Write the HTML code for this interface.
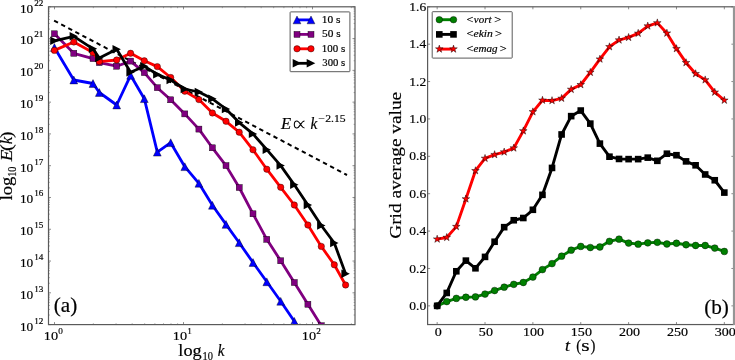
<!DOCTYPE html>
<html><head><meta charset="utf-8"><style>
html,body{margin:0;padding:0;background:#fff;width:735px;height:360px;overflow:hidden;}
svg{display:block;will-change:transform;}
</style></head><body>
<svg width="735" height="360" viewBox="0 0 735 360" font-family="Liberation Serif"><style>text{stroke:#000;stroke-width:0.18px;}</style>
<defs><clipPath id="cl"><rect x="48.5" y="6.8" width="306.5" height="317.8"/></clipPath>
<clipPath id="cr"><rect x="427.6" y="6.8" width="306.3" height="317.75"/></clipPath></defs>
<g clip-path="url(#cl)">
<line x1="54.1" y1="20.6" x2="347" y2="175" stroke="#000" stroke-width="2" stroke-dasharray="4.4 3.6"/>
<polyline points="54.4,47.5 73.8,80 93,83.5 99.3,92.5 116.7,105 130.6,75.3 144.3,98.7 157.3,152.2 170.7,142.7 184.8,166.7 198.9,183.3 212.4,205.3 226,224.4 239.2,242.7 253,262.5 266.8,281.8 280.7,301.3 294.3,321.3 307.9,341" fill="none" stroke="#0000ff" stroke-width="2.8" stroke-linejoin="round"/>
<path d="M54.4 43.6L50.5 51.4L58.3 51.4Z" fill="#0000ff" stroke="#000" stroke-width="0.4"/><path d="M73.8 76.1L69.9 83.9L77.7 83.9Z" fill="#0000ff" stroke="#000" stroke-width="0.4"/><path d="M93 79.6L89.1 87.4L96.9 87.4Z" fill="#0000ff" stroke="#000" stroke-width="0.4"/><path d="M99.3 88.6L95.4 96.4L103.2 96.4Z" fill="#0000ff" stroke="#000" stroke-width="0.4"/><path d="M116.7 101.1L112.8 108.9L120.6 108.9Z" fill="#0000ff" stroke="#000" stroke-width="0.4"/><path d="M130.6 71.4L126.7 79.2L134.5 79.2Z" fill="#0000ff" stroke="#000" stroke-width="0.4"/><path d="M144.3 94.8L140.4 102.6L148.2 102.6Z" fill="#0000ff" stroke="#000" stroke-width="0.4"/><path d="M157.3 148.3L153.4 156.1L161.2 156.1Z" fill="#0000ff" stroke="#000" stroke-width="0.4"/><path d="M170.7 138.8L166.8 146.6L174.6 146.6Z" fill="#0000ff" stroke="#000" stroke-width="0.4"/><path d="M184.8 162.8L180.9 170.6L188.7 170.6Z" fill="#0000ff" stroke="#000" stroke-width="0.4"/><path d="M198.9 179.4L195 187.2L202.8 187.2Z" fill="#0000ff" stroke="#000" stroke-width="0.4"/><path d="M212.4 201.4L208.5 209.2L216.3 209.2Z" fill="#0000ff" stroke="#000" stroke-width="0.4"/><path d="M226 220.5L222.1 228.3L229.9 228.3Z" fill="#0000ff" stroke="#000" stroke-width="0.4"/><path d="M239.2 238.8L235.3 246.6L243.1 246.6Z" fill="#0000ff" stroke="#000" stroke-width="0.4"/><path d="M253 258.6L249.1 266.4L256.9 266.4Z" fill="#0000ff" stroke="#000" stroke-width="0.4"/><path d="M266.8 277.9L262.9 285.7L270.7 285.7Z" fill="#0000ff" stroke="#000" stroke-width="0.4"/><path d="M280.7 297.4L276.8 305.2L284.6 305.2Z" fill="#0000ff" stroke="#000" stroke-width="0.4"/><path d="M294.3 317.4L290.4 325.2L298.2 325.2Z" fill="#0000ff" stroke="#000" stroke-width="0.4"/><path d="M307.9 337.1L304 344.9L311.8 344.9Z" fill="#0000ff" stroke="#000" stroke-width="0.4"/>
<polyline points="54.4,33.8 73.8,53.3 93,58.6 99.3,62.6 116.7,66.2 130.6,61.1 144.3,72.6 157.3,87.7 170.7,99.8 184.8,113.9 198.9,129.1 212.4,147.8 226,165.6 239.2,187.5 253,213.8 266.8,239.3 280.7,260.8 294.3,282.5 307.9,304.3 321.3,325.7 334.3,345" fill="none" stroke="#800080" stroke-width="2.8" stroke-linejoin="round"/>
<rect x="51.4" y="30.8" width="6" height="6" fill="#800080" stroke="#000" stroke-width="0.4"/><rect x="70.8" y="50.3" width="6" height="6" fill="#800080" stroke="#000" stroke-width="0.4"/><rect x="90" y="55.6" width="6" height="6" fill="#800080" stroke="#000" stroke-width="0.4"/><rect x="96.3" y="59.6" width="6" height="6" fill="#800080" stroke="#000" stroke-width="0.4"/><rect x="113.7" y="63.2" width="6" height="6" fill="#800080" stroke="#000" stroke-width="0.4"/><rect x="127.6" y="58.1" width="6" height="6" fill="#800080" stroke="#000" stroke-width="0.4"/><rect x="141.3" y="69.6" width="6" height="6" fill="#800080" stroke="#000" stroke-width="0.4"/><rect x="154.3" y="84.7" width="6" height="6" fill="#800080" stroke="#000" stroke-width="0.4"/><rect x="167.7" y="96.8" width="6" height="6" fill="#800080" stroke="#000" stroke-width="0.4"/><rect x="181.8" y="110.9" width="6" height="6" fill="#800080" stroke="#000" stroke-width="0.4"/><rect x="195.9" y="126.1" width="6" height="6" fill="#800080" stroke="#000" stroke-width="0.4"/><rect x="209.4" y="144.8" width="6" height="6" fill="#800080" stroke="#000" stroke-width="0.4"/><rect x="223" y="162.6" width="6" height="6" fill="#800080" stroke="#000" stroke-width="0.4"/><rect x="236.2" y="184.5" width="6" height="6" fill="#800080" stroke="#000" stroke-width="0.4"/><rect x="250" y="210.8" width="6" height="6" fill="#800080" stroke="#000" stroke-width="0.4"/><rect x="263.8" y="236.3" width="6" height="6" fill="#800080" stroke="#000" stroke-width="0.4"/><rect x="277.7" y="257.8" width="6" height="6" fill="#800080" stroke="#000" stroke-width="0.4"/><rect x="291.3" y="279.5" width="6" height="6" fill="#800080" stroke="#000" stroke-width="0.4"/><rect x="304.9" y="301.3" width="6" height="6" fill="#800080" stroke="#000" stroke-width="0.4"/><rect x="318.3" y="322.7" width="6" height="6" fill="#800080" stroke="#000" stroke-width="0.4"/><rect x="331.3" y="342" width="6" height="6" fill="#800080" stroke="#000" stroke-width="0.4"/>
<polyline points="54.4,50.4 73.8,42 93,52.5 99.3,61.6 116.7,60 130.6,53.3 144.3,60.8 157.3,66.6 170.7,77.5 184.8,91.2 198.9,99.6 212.4,113 226,121.3 239.2,132.2 253,149.8 266.8,169.2 280.7,187.3 294.3,205 307.9,225 321.3,246.4 334.3,264.8 345.6,285" fill="none" stroke="#ff0000" stroke-width="2.8" stroke-linejoin="round"/>
<circle cx="54.4" cy="50.4" r="3.2" fill="#ff0000" stroke="#000" stroke-width="0.4"/><circle cx="73.8" cy="42" r="3.2" fill="#ff0000" stroke="#000" stroke-width="0.4"/><circle cx="93" cy="52.5" r="3.2" fill="#ff0000" stroke="#000" stroke-width="0.4"/><circle cx="99.3" cy="61.6" r="3.2" fill="#ff0000" stroke="#000" stroke-width="0.4"/><circle cx="116.7" cy="60" r="3.2" fill="#ff0000" stroke="#000" stroke-width="0.4"/><circle cx="130.6" cy="53.3" r="3.2" fill="#ff0000" stroke="#000" stroke-width="0.4"/><circle cx="144.3" cy="60.8" r="3.2" fill="#ff0000" stroke="#000" stroke-width="0.4"/><circle cx="157.3" cy="66.6" r="3.2" fill="#ff0000" stroke="#000" stroke-width="0.4"/><circle cx="170.7" cy="77.5" r="3.2" fill="#ff0000" stroke="#000" stroke-width="0.4"/><circle cx="184.8" cy="91.2" r="3.2" fill="#ff0000" stroke="#000" stroke-width="0.4"/><circle cx="198.9" cy="99.6" r="3.2" fill="#ff0000" stroke="#000" stroke-width="0.4"/><circle cx="212.4" cy="113" r="3.2" fill="#ff0000" stroke="#000" stroke-width="0.4"/><circle cx="226" cy="121.3" r="3.2" fill="#ff0000" stroke="#000" stroke-width="0.4"/><circle cx="239.2" cy="132.2" r="3.2" fill="#ff0000" stroke="#000" stroke-width="0.4"/><circle cx="253" cy="149.8" r="3.2" fill="#ff0000" stroke="#000" stroke-width="0.4"/><circle cx="266.8" cy="169.2" r="3.2" fill="#ff0000" stroke="#000" stroke-width="0.4"/><circle cx="280.7" cy="187.3" r="3.2" fill="#ff0000" stroke="#000" stroke-width="0.4"/><circle cx="294.3" cy="205" r="3.2" fill="#ff0000" stroke="#000" stroke-width="0.4"/><circle cx="307.9" cy="225" r="3.2" fill="#ff0000" stroke="#000" stroke-width="0.4"/><circle cx="321.3" cy="246.4" r="3.2" fill="#ff0000" stroke="#000" stroke-width="0.4"/><circle cx="334.3" cy="264.8" r="3.2" fill="#ff0000" stroke="#000" stroke-width="0.4"/><circle cx="345.6" cy="285" r="3.2" fill="#ff0000" stroke="#000" stroke-width="0.4"/>
<polyline points="54.4,40.8 73.8,36.3 93,48.8 99.3,58.1 116.7,49.2 130.6,72.3 144.3,66.3 157.3,74.4 170.7,80 184.8,89 198.9,92 212.4,98.8 226,109 239.2,122.6 253,133.9 266.8,149.7 280.7,165.6 294.3,184.7 307.9,205 321.3,225.5 334.3,243 345.6,273.8" fill="none" stroke="#000000" stroke-width="2.8" stroke-linejoin="round"/>
<path d="M58.6 40.8L50.2 36.6L50.2 45Z" fill="#000000" stroke="none" stroke-width="0"/><path d="M78 36.3L69.6 32.1L69.6 40.5Z" fill="#000000" stroke="none" stroke-width="0"/><path d="M97.2 48.8L88.8 44.6L88.8 53Z" fill="#000000" stroke="none" stroke-width="0"/><path d="M103.5 58.1L95.1 53.9L95.1 62.3Z" fill="#000000" stroke="none" stroke-width="0"/><path d="M120.9 49.2L112.5 45L112.5 53.4Z" fill="#000000" stroke="none" stroke-width="0"/><path d="M134.8 72.3L126.4 68.1L126.4 76.5Z" fill="#000000" stroke="none" stroke-width="0"/><path d="M148.5 66.3L140.1 62.1L140.1 70.5Z" fill="#000000" stroke="none" stroke-width="0"/><path d="M161.5 74.4L153.1 70.2L153.1 78.6Z" fill="#000000" stroke="none" stroke-width="0"/><path d="M174.9 80L166.5 75.8L166.5 84.2Z" fill="#000000" stroke="none" stroke-width="0"/><path d="M189 89L180.6 84.8L180.6 93.2Z" fill="#000000" stroke="none" stroke-width="0"/><path d="M203.1 92L194.7 87.8L194.7 96.2Z" fill="#000000" stroke="none" stroke-width="0"/><path d="M216.6 98.8L208.2 94.6L208.2 103Z" fill="#000000" stroke="none" stroke-width="0"/><path d="M230.2 109L221.8 104.8L221.8 113.2Z" fill="#000000" stroke="none" stroke-width="0"/><path d="M243.4 122.6L235 118.4L235 126.8Z" fill="#000000" stroke="none" stroke-width="0"/><path d="M257.2 133.9L248.8 129.7L248.8 138.1Z" fill="#000000" stroke="none" stroke-width="0"/><path d="M271 149.7L262.6 145.5L262.6 153.9Z" fill="#000000" stroke="none" stroke-width="0"/><path d="M284.9 165.6L276.5 161.4L276.5 169.8Z" fill="#000000" stroke="none" stroke-width="0"/><path d="M298.5 184.7L290.1 180.5L290.1 188.9Z" fill="#000000" stroke="none" stroke-width="0"/><path d="M312.1 205L303.7 200.8L303.7 209.2Z" fill="#000000" stroke="none" stroke-width="0"/><path d="M325.5 225.5L317.1 221.3L317.1 229.7Z" fill="#000000" stroke="none" stroke-width="0"/><path d="M338.5 243L330.1 238.8L330.1 247.2Z" fill="#000000" stroke="none" stroke-width="0"/><path d="M349.8 273.8L341.4 269.6L341.4 278Z" fill="#000000" stroke="none" stroke-width="0"/>
</g>
<path d="M54.5 324.6v-2.5M54.5 6.8v2.5M183.5 324.6v-2.5M183.5 6.8v2.5M312.5 324.6v-2.5M312.5 6.8v2.5M48.5 324.6h2.5M355 324.6h-2.5M48.5 292.82h2.5M355 292.82h-2.5M48.5 261.04h2.5M355 261.04h-2.5M48.5 229.26h2.5M355 229.26h-2.5M48.5 197.48h2.5M355 197.48h-2.5M48.5 165.7h2.5M355 165.7h-2.5M48.5 133.92h2.5M355 133.92h-2.5M48.5 102.14h2.5M355 102.14h-2.5M48.5 70.36h2.5M355 70.36h-2.5M48.5 38.58h2.5M355 38.58h-2.5M48.5 6.8h2.5M355 6.8h-2.5" stroke="#666" stroke-width="0.75" fill="none"/>
<path d="M93.33 324.6v-1.4M93.33 6.8v1.4M116.05 324.6v-1.4M116.05 6.8v1.4M132.17 324.6v-1.4M132.17 6.8v1.4M144.67 324.6v-1.4M144.67 6.8v1.4M154.88 324.6v-1.4M154.88 6.8v1.4M163.52 324.6v-1.4M163.52 6.8v1.4M171 324.6v-1.4M171 6.8v1.4M177.6 324.6v-1.4M177.6 6.8v1.4M222.33 324.6v-1.4M222.33 6.8v1.4M245.05 324.6v-1.4M245.05 6.8v1.4M261.17 324.6v-1.4M261.17 6.8v1.4M273.67 324.6v-1.4M273.67 6.8v1.4M283.88 324.6v-1.4M283.88 6.8v1.4M292.52 324.6v-1.4M292.52 6.8v1.4M300 324.6v-1.4M300 6.8v1.4M306.6 324.6v-1.4M306.6 6.8v1.4M351.33 324.6v-1.4M351.33 6.8v1.4M48.5 315.03h1.4M355 315.03h-1.4M48.5 309.44h1.4M355 309.44h-1.4M48.5 305.47h1.4M355 305.47h-1.4M48.5 302.39h1.4M355 302.39h-1.4M48.5 299.87h1.4M355 299.87h-1.4M48.5 297.74h1.4M355 297.74h-1.4M48.5 295.9h1.4M355 295.9h-1.4M48.5 294.27h1.4M355 294.27h-1.4M48.5 283.25h1.4M355 283.25h-1.4M48.5 277.66h1.4M355 277.66h-1.4M48.5 273.69h1.4M355 273.69h-1.4M48.5 270.61h1.4M355 270.61h-1.4M48.5 268.09h1.4M355 268.09h-1.4M48.5 265.96h1.4M355 265.96h-1.4M48.5 264.12h1.4M355 264.12h-1.4M48.5 262.49h1.4M355 262.49h-1.4M48.5 251.47h1.4M355 251.47h-1.4M48.5 245.88h1.4M355 245.88h-1.4M48.5 241.91h1.4M355 241.91h-1.4M48.5 238.83h1.4M355 238.83h-1.4M48.5 236.31h1.4M355 236.31h-1.4M48.5 234.18h1.4M355 234.18h-1.4M48.5 232.34h1.4M355 232.34h-1.4M48.5 230.71h1.4M355 230.71h-1.4M48.5 219.69h1.4M355 219.69h-1.4M48.5 214.1h1.4M355 214.1h-1.4M48.5 210.13h1.4M355 210.13h-1.4M48.5 207.05h1.4M355 207.05h-1.4M48.5 204.53h1.4M355 204.53h-1.4M48.5 202.4h1.4M355 202.4h-1.4M48.5 200.56h1.4M355 200.56h-1.4M48.5 198.93h1.4M355 198.93h-1.4M48.5 187.91h1.4M355 187.91h-1.4M48.5 182.32h1.4M355 182.32h-1.4M48.5 178.35h1.4M355 178.35h-1.4M48.5 175.27h1.4M355 175.27h-1.4M48.5 172.75h1.4M355 172.75h-1.4M48.5 170.62h1.4M355 170.62h-1.4M48.5 168.78h1.4M355 168.78h-1.4M48.5 167.15h1.4M355 167.15h-1.4M48.5 156.13h1.4M355 156.13h-1.4M48.5 150.54h1.4M355 150.54h-1.4M48.5 146.57h1.4M355 146.57h-1.4M48.5 143.49h1.4M355 143.49h-1.4M48.5 140.97h1.4M355 140.97h-1.4M48.5 138.84h1.4M355 138.84h-1.4M48.5 137h1.4M355 137h-1.4M48.5 135.37h1.4M355 135.37h-1.4M48.5 124.35h1.4M355 124.35h-1.4M48.5 118.76h1.4M355 118.76h-1.4M48.5 114.79h1.4M355 114.79h-1.4M48.5 111.71h1.4M355 111.71h-1.4M48.5 109.19h1.4M355 109.19h-1.4M48.5 107.06h1.4M355 107.06h-1.4M48.5 105.22h1.4M355 105.22h-1.4M48.5 103.59h1.4M355 103.59h-1.4M48.5 92.57h1.4M355 92.57h-1.4M48.5 86.98h1.4M355 86.98h-1.4M48.5 83.01h1.4M355 83.01h-1.4M48.5 79.93h1.4M355 79.93h-1.4M48.5 77.41h1.4M355 77.41h-1.4M48.5 75.28h1.4M355 75.28h-1.4M48.5 73.44h1.4M355 73.44h-1.4M48.5 71.81h1.4M355 71.81h-1.4M48.5 60.79h1.4M355 60.79h-1.4M48.5 55.2h1.4M355 55.2h-1.4M48.5 51.23h1.4M355 51.23h-1.4M48.5 48.15h1.4M355 48.15h-1.4M48.5 45.63h1.4M355 45.63h-1.4M48.5 43.5h1.4M355 43.5h-1.4M48.5 41.66h1.4M355 41.66h-1.4M48.5 40.03h1.4M355 40.03h-1.4M48.5 29.01h1.4M355 29.01h-1.4M48.5 23.42h1.4M355 23.42h-1.4M48.5 19.45h1.4M355 19.45h-1.4M48.5 16.37h1.4M355 16.37h-1.4M48.5 13.85h1.4M355 13.85h-1.4M48.5 11.72h1.4M355 11.72h-1.4M48.5 9.88h1.4M355 9.88h-1.4M48.5 8.25h1.4M355 8.25h-1.4" stroke="#777" stroke-width="0.6" fill="none"/>
<rect x="48.5" y="6.8" width="306.5" height="317.8" fill="none" stroke="#5a5a5a" stroke-width="1.2"/>
<text x="19.88" y="330.5" font-size="13.4" textLength="13.33" lengthAdjust="spacingAndGlyphs">10</text>
<text x="34.15" y="323.5" font-size="9.2" textLength="9.15" lengthAdjust="spacingAndGlyphs">12</text>
<text x="19.88" y="298.72" font-size="13.4" textLength="13.33" lengthAdjust="spacingAndGlyphs">10</text>
<text x="34.15" y="291.72" font-size="9.2" textLength="9.15" lengthAdjust="spacingAndGlyphs">13</text>
<text x="19.88" y="266.94" font-size="13.4" textLength="13.33" lengthAdjust="spacingAndGlyphs">10</text>
<text x="34.15" y="259.94" font-size="9.2" textLength="9.15" lengthAdjust="spacingAndGlyphs">14</text>
<text x="19.88" y="235.16" font-size="13.4" textLength="13.33" lengthAdjust="spacingAndGlyphs">10</text>
<text x="34.15" y="228.16" font-size="9.2" textLength="9.15" lengthAdjust="spacingAndGlyphs">15</text>
<text x="19.88" y="203.38" font-size="13.4" textLength="13.33" lengthAdjust="spacingAndGlyphs">10</text>
<text x="34.15" y="196.38" font-size="9.2" textLength="9.15" lengthAdjust="spacingAndGlyphs">16</text>
<text x="19.88" y="171.6" font-size="13.4" textLength="13.33" lengthAdjust="spacingAndGlyphs">10</text>
<text x="34.15" y="164.6" font-size="9.2" textLength="9.15" lengthAdjust="spacingAndGlyphs">17</text>
<text x="19.88" y="139.82" font-size="13.4" textLength="13.33" lengthAdjust="spacingAndGlyphs">10</text>
<text x="34.15" y="132.82" font-size="9.2" textLength="9.15" lengthAdjust="spacingAndGlyphs">18</text>
<text x="19.88" y="108.04" font-size="13.4" textLength="13.33" lengthAdjust="spacingAndGlyphs">10</text>
<text x="34.15" y="101.04" font-size="9.2" textLength="9.15" lengthAdjust="spacingAndGlyphs">19</text>
<text x="19.88" y="76.26" font-size="13.4" textLength="13.33" lengthAdjust="spacingAndGlyphs">10</text>
<text x="34.15" y="69.26" font-size="9.2" textLength="9.15" lengthAdjust="spacingAndGlyphs">20</text>
<text x="19.88" y="44.48" font-size="13.4" textLength="13.33" lengthAdjust="spacingAndGlyphs">10</text>
<text x="34.15" y="37.48" font-size="9.2" textLength="9.15" lengthAdjust="spacingAndGlyphs">21</text>
<text x="19.88" y="12.7" font-size="13.4" textLength="13.33" lengthAdjust="spacingAndGlyphs">10</text>
<text x="34.15" y="5.7" font-size="9.2" textLength="9.15" lengthAdjust="spacingAndGlyphs">22</text>
<text x="43.84" y="339.6" font-size="13" textLength="14.3" lengthAdjust="spacingAndGlyphs">10</text>
<text x="58.15" y="333.5" font-size="9.2">0</text>
<text x="172.84" y="339.6" font-size="13" textLength="14.3" lengthAdjust="spacingAndGlyphs">10</text>
<text x="187.15" y="333.5" font-size="9.2">1</text>
<text x="301.84" y="339.6" font-size="13" textLength="14.3" lengthAdjust="spacingAndGlyphs">10</text>
<text x="316.15" y="333.5" font-size="9.2">2</text>
<rect x="290.1" y="11.9" width="59.8" height="59.8" rx="0.6" fill="#fff" stroke="#5a5a5a" stroke-width="1"/>
<line x1="297" y1="19.9" x2="311" y2="19.9" stroke="#0000ff" stroke-width="2.8"/>
<path d="M297 16L293.1 23.8L300.9 23.8Z" fill="#0000ff" stroke="#000" stroke-width="0.4"/>
<path d="M311 16L307.1 23.8L314.9 23.8Z" fill="#0000ff" stroke="#000" stroke-width="0.4"/>
<text x="321.8" y="23.2" font-size="10.3" textLength="18.72" lengthAdjust="spacingAndGlyphs">10 s</text>
<line x1="297" y1="34.4" x2="311" y2="34.4" stroke="#800080" stroke-width="2.8"/>
<rect x="294" y="31.4" width="6" height="6" fill="#800080" stroke="#000" stroke-width="0.4"/>
<rect x="308" y="31.4" width="6" height="6" fill="#800080" stroke="#000" stroke-width="0.4"/>
<text x="322.14" y="37.2" font-size="10.3" textLength="18.57" lengthAdjust="spacingAndGlyphs">50 s</text>
<line x1="297" y1="48.8" x2="311" y2="48.8" stroke="#ff0000" stroke-width="2.8"/>
<circle cx="297" cy="48.8" r="3.2" fill="#ff0000" stroke="#000" stroke-width="0.4"/>
<circle cx="311" cy="48.8" r="3.2" fill="#ff0000" stroke="#000" stroke-width="0.4"/>
<text x="321.84" y="52.2" font-size="10.3" textLength="23.35" lengthAdjust="spacingAndGlyphs">100 s</text>
<line x1="297" y1="63.3" x2="311" y2="63.3" stroke="#000000" stroke-width="2.8"/>
<path d="M301.3 63.3L292.7 59L292.7 67.6Z" fill="#000000" stroke="none" stroke-width="0"/>
<path d="M315.3 63.3L306.7 59L306.7 67.6Z" fill="#000000" stroke="none" stroke-width="0"/>
<text x="322.29" y="66.4" font-size="10.3" textLength="22.9" lengthAdjust="spacingAndGlyphs">300 s</text>
<text x="281.1" y="128.5" font-size="16.4" font-style="italic" textLength="10.17" lengthAdjust="spacingAndGlyphs">E</text>
<path d="M304.5 121C301.1 121 299.9 127.9 296.9 127.9C295.3 127.9 294.3 126.3 294.3 124.45C294.3 122.6 295.3 121 296.9 121C299.9 121 301.1 127.9 304.5 127.9" fill="none" stroke="#000" stroke-width="1.05"/>
<text x="310.56" y="128.5" font-size="16.4" font-style="italic" textLength="6.82" lengthAdjust="spacingAndGlyphs">k</text>
<text x="318.62" y="121.5" font-size="10.6" textLength="26.93" lengthAdjust="spacingAndGlyphs">−2.15</text>
<g transform="translate(12.1,0) rotate(-90)"><text x="-200.37" y="0" font-size="16.6" textLength="23.73" lengthAdjust="spacingAndGlyphs">log</text><text x="-176.68" y="4.1" font-size="11.5" textLength="10.07" lengthAdjust="spacingAndGlyphs">10</text><text x="-161.38" y="0" font-size="16.6" font-style="italic" textLength="11.68" lengthAdjust="spacingAndGlyphs">E</text><text x="-150.99" y="0" font-size="16.6" textLength="6.74" lengthAdjust="spacingAndGlyphs">(</text><text x="-144.28" y="0" font-size="16.6" font-style="italic" textLength="7.44" lengthAdjust="spacingAndGlyphs">k</text><text x="-137.94" y="0" font-size="16.6" textLength="6.61" lengthAdjust="spacingAndGlyphs">)</text></g>
<text x="178.33" y="355.7" font-size="16.6" textLength="23.31" lengthAdjust="spacingAndGlyphs">log</text>
<text x="202.48" y="359.5" font-size="11.5" textLength="10.41" lengthAdjust="spacingAndGlyphs">10</text>
<text x="217.86" y="355.7" font-size="16.6" font-style="italic" textLength="6.71" lengthAdjust="spacingAndGlyphs">k</text>
<text x="53.77" y="312" font-size="20.2" textLength="23.57" lengthAdjust="spacingAndGlyphs">(a)</text>
<g clip-path="url(#cr)">
<polyline points="437.17,305.86 446.74,301.56 456.32,298.38 465.89,297.26 475.46,296.89 485.03,294.08 494.6,290.53 504.18,287.17 513.75,284.36 523.32,282.49 532.89,277.07 542.46,269.6 552.03,263.62 561.61,256.14 571.18,250.16 580.75,246.42 590.32,247.54 599.89,246.98 609.47,241.37 619.04,239.13 628.61,243.06 638.18,244.18 647.75,242.87 657.33,242.31 666.9,243.99 676.47,243.24 686.04,244.74 695.61,245.49 705.18,245.49 714.76,248.1 724.33,251.47" fill="none" stroke="#008000" stroke-width="2.9" stroke-linejoin="round"/>
<circle cx="437.17" cy="305.86" r="3.4" fill="#008000" stroke="#000" stroke-width="0.4"/><circle cx="446.74" cy="301.56" r="3.4" fill="#008000" stroke="#000" stroke-width="0.4"/><circle cx="456.32" cy="298.38" r="3.4" fill="#008000" stroke="#000" stroke-width="0.4"/><circle cx="465.89" cy="297.26" r="3.4" fill="#008000" stroke="#000" stroke-width="0.4"/><circle cx="475.46" cy="296.89" r="3.4" fill="#008000" stroke="#000" stroke-width="0.4"/><circle cx="485.03" cy="294.08" r="3.4" fill="#008000" stroke="#000" stroke-width="0.4"/><circle cx="494.6" cy="290.53" r="3.4" fill="#008000" stroke="#000" stroke-width="0.4"/><circle cx="504.18" cy="287.17" r="3.4" fill="#008000" stroke="#000" stroke-width="0.4"/><circle cx="513.75" cy="284.36" r="3.4" fill="#008000" stroke="#000" stroke-width="0.4"/><circle cx="523.32" cy="282.49" r="3.4" fill="#008000" stroke="#000" stroke-width="0.4"/><circle cx="532.89" cy="277.07" r="3.4" fill="#008000" stroke="#000" stroke-width="0.4"/><circle cx="542.46" cy="269.6" r="3.4" fill="#008000" stroke="#000" stroke-width="0.4"/><circle cx="552.03" cy="263.62" r="3.4" fill="#008000" stroke="#000" stroke-width="0.4"/><circle cx="561.61" cy="256.14" r="3.4" fill="#008000" stroke="#000" stroke-width="0.4"/><circle cx="571.18" cy="250.16" r="3.4" fill="#008000" stroke="#000" stroke-width="0.4"/><circle cx="580.75" cy="246.42" r="3.4" fill="#008000" stroke="#000" stroke-width="0.4"/><circle cx="590.32" cy="247.54" r="3.4" fill="#008000" stroke="#000" stroke-width="0.4"/><circle cx="599.89" cy="246.98" r="3.4" fill="#008000" stroke="#000" stroke-width="0.4"/><circle cx="609.47" cy="241.37" r="3.4" fill="#008000" stroke="#000" stroke-width="0.4"/><circle cx="619.04" cy="239.13" r="3.4" fill="#008000" stroke="#000" stroke-width="0.4"/><circle cx="628.61" cy="243.06" r="3.4" fill="#008000" stroke="#000" stroke-width="0.4"/><circle cx="638.18" cy="244.18" r="3.4" fill="#008000" stroke="#000" stroke-width="0.4"/><circle cx="647.75" cy="242.87" r="3.4" fill="#008000" stroke="#000" stroke-width="0.4"/><circle cx="657.33" cy="242.31" r="3.4" fill="#008000" stroke="#000" stroke-width="0.4"/><circle cx="666.9" cy="243.99" r="3.4" fill="#008000" stroke="#000" stroke-width="0.4"/><circle cx="676.47" cy="243.24" r="3.4" fill="#008000" stroke="#000" stroke-width="0.4"/><circle cx="686.04" cy="244.74" r="3.4" fill="#008000" stroke="#000" stroke-width="0.4"/><circle cx="695.61" cy="245.49" r="3.4" fill="#008000" stroke="#000" stroke-width="0.4"/><circle cx="705.18" cy="245.49" r="3.4" fill="#008000" stroke="#000" stroke-width="0.4"/><circle cx="714.76" cy="248.1" r="3.4" fill="#008000" stroke="#000" stroke-width="0.4"/><circle cx="724.33" cy="251.47" r="3.4" fill="#008000" stroke="#000" stroke-width="0.4"/>
<polyline points="437.17,305.86 446.74,292.96 456.32,271.28 465.89,260.63 475.46,268.29 485.03,256.89 494.6,241.75 504.18,227.17 513.75,220.25 523.32,218.01 532.89,209.79 542.46,194.83 552.03,167.92 561.61,134.46 571.18,116.14 580.75,110.54 590.32,123.62 599.89,143.62 609.47,156.7 619.04,158.95 628.61,159.13 638.18,159.13 647.75,157.64 657.33,160.82 666.9,153.71 676.47,155.21 686.04,161.38 695.61,165.3 705.18,174.46 714.76,180.25 724.33,192.59" fill="none" stroke="#000000" stroke-width="2.9" stroke-linejoin="round"/>
<rect x="433.87" y="302.56" width="6.6" height="6.6" fill="#000000" stroke="none" stroke-width="0"/><rect x="443.44" y="289.66" width="6.6" height="6.6" fill="#000000" stroke="none" stroke-width="0"/><rect x="453.02" y="267.98" width="6.6" height="6.6" fill="#000000" stroke="none" stroke-width="0"/><rect x="462.59" y="257.33" width="6.6" height="6.6" fill="#000000" stroke="none" stroke-width="0"/><rect x="472.16" y="264.99" width="6.6" height="6.6" fill="#000000" stroke="none" stroke-width="0"/><rect x="481.73" y="253.59" width="6.6" height="6.6" fill="#000000" stroke="none" stroke-width="0"/><rect x="491.3" y="238.45" width="6.6" height="6.6" fill="#000000" stroke="none" stroke-width="0"/><rect x="500.88" y="223.87" width="6.6" height="6.6" fill="#000000" stroke="none" stroke-width="0"/><rect x="510.45" y="216.95" width="6.6" height="6.6" fill="#000000" stroke="none" stroke-width="0"/><rect x="520.02" y="214.71" width="6.6" height="6.6" fill="#000000" stroke="none" stroke-width="0"/><rect x="529.59" y="206.49" width="6.6" height="6.6" fill="#000000" stroke="none" stroke-width="0"/><rect x="539.16" y="191.53" width="6.6" height="6.6" fill="#000000" stroke="none" stroke-width="0"/><rect x="548.73" y="164.62" width="6.6" height="6.6" fill="#000000" stroke="none" stroke-width="0"/><rect x="558.31" y="131.16" width="6.6" height="6.6" fill="#000000" stroke="none" stroke-width="0"/><rect x="567.88" y="112.84" width="6.6" height="6.6" fill="#000000" stroke="none" stroke-width="0"/><rect x="577.45" y="107.24" width="6.6" height="6.6" fill="#000000" stroke="none" stroke-width="0"/><rect x="587.02" y="120.32" width="6.6" height="6.6" fill="#000000" stroke="none" stroke-width="0"/><rect x="596.59" y="140.32" width="6.6" height="6.6" fill="#000000" stroke="none" stroke-width="0"/><rect x="606.17" y="153.4" width="6.6" height="6.6" fill="#000000" stroke="none" stroke-width="0"/><rect x="615.74" y="155.65" width="6.6" height="6.6" fill="#000000" stroke="none" stroke-width="0"/><rect x="625.31" y="155.83" width="6.6" height="6.6" fill="#000000" stroke="none" stroke-width="0"/><rect x="634.88" y="155.83" width="6.6" height="6.6" fill="#000000" stroke="none" stroke-width="0"/><rect x="644.45" y="154.34" width="6.6" height="6.6" fill="#000000" stroke="none" stroke-width="0"/><rect x="654.03" y="157.52" width="6.6" height="6.6" fill="#000000" stroke="none" stroke-width="0"/><rect x="663.6" y="150.41" width="6.6" height="6.6" fill="#000000" stroke="none" stroke-width="0"/><rect x="673.17" y="151.91" width="6.6" height="6.6" fill="#000000" stroke="none" stroke-width="0"/><rect x="682.74" y="158.08" width="6.6" height="6.6" fill="#000000" stroke="none" stroke-width="0"/><rect x="692.31" y="162" width="6.6" height="6.6" fill="#000000" stroke="none" stroke-width="0"/><rect x="701.88" y="171.16" width="6.6" height="6.6" fill="#000000" stroke="none" stroke-width="0"/><rect x="711.46" y="176.95" width="6.6" height="6.6" fill="#000000" stroke="none" stroke-width="0"/><rect x="721.03" y="189.29" width="6.6" height="6.6" fill="#000000" stroke="none" stroke-width="0"/>
<polyline points="437.17,239.13 446.74,237.45 456.32,226.61 465.89,198.95 475.46,170.72 485.03,158.39 494.6,154.65 504.18,152.03 513.75,148.11 523.32,130.91 532.89,111.84 542.46,100.26 552.03,100.63 561.61,98.39 571.18,89.41 580.75,84.74 590.32,72.41 599.89,59.14 609.47,46.8 619.04,40.07 628.61,37.45 638.18,33.34 647.75,26.05 657.33,22.87 666.9,33.15 676.47,48.67 686.04,62.69 695.61,73.71 705.18,79.88 714.76,92.22 724.33,100.26" fill="none" stroke="#ff0000" stroke-width="2.9" stroke-linejoin="round"/>
<path d="M437.17 235.13 L436.27 237.9 L433.37 237.9 L435.72 239.6 L434.82 242.37 L437.17 240.66 L439.52 242.37 L438.62 239.6 L440.98 237.9 L438.07 237.9Z" fill="#ff0000" stroke="#000" stroke-width="0.45"/><path d="M446.74 233.45 L445.85 236.21 L442.94 236.21 L445.29 237.92 L444.39 240.69 L446.74 238.98 L449.09 240.69 L448.2 237.92 L450.55 236.21 L447.64 236.21Z" fill="#ff0000" stroke="#000" stroke-width="0.45"/><path d="M456.32 222.61 L455.42 225.37 L452.51 225.37 L454.86 227.08 L453.96 229.84 L456.32 228.14 L458.67 229.84 L457.77 227.08 L460.12 225.37 L457.21 225.37Z" fill="#ff0000" stroke="#000" stroke-width="0.45"/><path d="M465.89 194.95 L464.99 197.71 L462.08 197.71 L464.43 199.42 L463.54 202.18 L465.89 200.47 L468.24 202.18 L467.34 199.42 L469.69 197.71 L466.79 197.71Z" fill="#ff0000" stroke="#000" stroke-width="0.45"/><path d="M475.46 166.72 L474.56 169.49 L471.66 169.49 L474.01 171.19 L473.11 173.96 L475.46 172.25 L477.81 173.96 L476.91 171.19 L479.26 169.49 L476.36 169.49Z" fill="#ff0000" stroke="#000" stroke-width="0.45"/><path d="M485.03 154.39 L484.13 157.15 L481.23 157.15 L483.58 158.86 L482.68 161.62 L485.03 159.91 L487.38 161.62 L486.48 158.86 L488.84 157.15 L485.93 157.15Z" fill="#ff0000" stroke="#000" stroke-width="0.45"/><path d="M494.6 150.65 L493.71 153.41 L490.8 153.41 L493.15 155.12 L492.25 157.88 L494.6 156.18 L496.95 157.88 L496.06 155.12 L498.41 153.41 L495.5 153.41Z" fill="#ff0000" stroke="#000" stroke-width="0.45"/><path d="M504.18 148.03 L503.28 150.79 L500.37 150.79 L502.72 152.5 L501.82 155.27 L504.18 153.56 L506.53 155.27 L505.63 152.5 L507.98 150.79 L505.07 150.79Z" fill="#ff0000" stroke="#000" stroke-width="0.45"/><path d="M513.75 144.11 L512.85 146.87 L509.94 146.87 L512.29 148.58 L511.4 151.34 L513.75 149.63 L516.1 151.34 L515.2 148.58 L517.55 146.87 L514.64 146.87Z" fill="#ff0000" stroke="#000" stroke-width="0.45"/><path d="M523.32 126.91 L522.42 129.67 L519.51 129.67 L521.87 131.38 L520.97 134.15 L523.32 132.44 L525.67 134.15 L524.77 131.38 L527.12 129.67 L524.22 129.67Z" fill="#ff0000" stroke="#000" stroke-width="0.45"/><path d="M532.89 107.84 L531.99 110.61 L529.09 110.61 L531.44 112.32 L530.54 115.08 L532.89 113.37 L535.24 115.08 L534.34 112.32 L536.69 110.61 L533.79 110.61Z" fill="#ff0000" stroke="#000" stroke-width="0.45"/><path d="M542.46 96.26 L541.56 99.02 L538.66 99.02 L541.01 100.73 L540.11 103.49 L542.46 101.78 L544.81 103.49 L543.92 100.73 L546.27 99.02 L543.36 99.02Z" fill="#ff0000" stroke="#000" stroke-width="0.45"/><path d="M552.03 96.63 L551.14 99.39 L548.23 99.39 L550.58 101.1 L549.68 103.87 L552.03 102.16 L554.39 103.87 L553.49 101.1 L555.84 99.39 L552.93 99.39Z" fill="#ff0000" stroke="#000" stroke-width="0.45"/><path d="M561.61 94.39 L560.71 97.15 L557.8 97.15 L560.15 98.86 L559.26 101.62 L561.61 99.91 L563.96 101.62 L563.06 98.86 L565.41 97.15 L562.5 97.15Z" fill="#ff0000" stroke="#000" stroke-width="0.45"/><path d="M571.18 85.41 L570.28 88.18 L567.37 88.18 L569.73 89.89 L568.83 92.65 L571.18 90.94 L573.53 92.65 L572.63 89.89 L574.98 88.18 L572.08 88.18Z" fill="#ff0000" stroke="#000" stroke-width="0.45"/><path d="M580.75 80.74 L579.85 83.51 L576.95 83.51 L579.3 85.21 L578.4 87.98 L580.75 86.27 L583.1 87.98 L582.2 85.21 L584.55 83.51 L581.65 83.51Z" fill="#ff0000" stroke="#000" stroke-width="0.45"/><path d="M590.32 68.41 L589.42 71.17 L586.52 71.17 L588.87 72.88 L587.97 75.64 L590.32 73.93 L592.67 75.64 L591.77 72.88 L594.13 71.17 L591.22 71.17Z" fill="#ff0000" stroke="#000" stroke-width="0.45"/><path d="M599.89 55.14 L599 57.9 L596.09 57.9 L598.44 59.61 L597.54 62.37 L599.89 60.66 L602.24 62.37 L601.35 59.61 L603.7 57.9 L600.79 57.9Z" fill="#ff0000" stroke="#000" stroke-width="0.45"/><path d="M609.47 42.8 L608.57 45.56 L605.66 45.56 L608.01 47.27 L607.11 50.04 L609.47 48.33 L611.82 50.04 L610.92 47.27 L613.27 45.56 L610.36 45.56Z" fill="#ff0000" stroke="#000" stroke-width="0.45"/><path d="M619.04 36.07 L618.14 38.83 L615.23 38.83 L617.58 40.54 L616.69 43.31 L619.04 41.6 L621.39 43.31 L620.49 40.54 L622.84 38.83 L619.94 38.83Z" fill="#ff0000" stroke="#000" stroke-width="0.45"/><path d="M628.61 33.45 L627.71 36.22 L624.81 36.22 L627.16 37.93 L626.26 40.69 L628.61 38.98 L630.96 40.69 L630.06 37.93 L632.41 36.22 L629.51 36.22Z" fill="#ff0000" stroke="#000" stroke-width="0.45"/><path d="M638.18 29.34 L637.28 32.11 L634.38 32.11 L636.73 33.81 L635.83 36.58 L638.18 34.87 L640.53 36.58 L639.63 33.81 L641.99 32.11 L639.08 32.11Z" fill="#ff0000" stroke="#000" stroke-width="0.45"/><path d="M647.75 22.05 L646.86 24.82 L643.95 24.82 L646.3 26.52 L645.4 29.29 L647.75 27.58 L650.1 29.29 L649.21 26.52 L651.56 24.82 L648.65 24.82Z" fill="#ff0000" stroke="#000" stroke-width="0.45"/><path d="M657.33 18.87 L656.43 21.64 L653.52 21.64 L655.87 23.35 L654.97 26.11 L657.33 24.4 L659.68 26.11 L658.78 23.35 L661.13 21.64 L658.22 21.64Z" fill="#ff0000" stroke="#000" stroke-width="0.45"/><path d="M666.9 29.15 L666 31.92 L663.09 31.92 L665.44 33.63 L664.55 36.39 L666.9 34.68 L669.25 36.39 L668.35 33.63 L670.7 31.92 L667.79 31.92Z" fill="#ff0000" stroke="#000" stroke-width="0.45"/><path d="M676.47 44.67 L675.57 47.43 L672.66 47.43 L675.02 49.14 L674.12 51.9 L676.47 50.2 L678.82 51.9 L677.92 49.14 L680.27 47.43 L677.37 47.43Z" fill="#ff0000" stroke="#000" stroke-width="0.45"/><path d="M686.04 58.69 L685.14 61.45 L682.24 61.45 L684.59 63.16 L683.69 65.92 L686.04 64.21 L688.39 65.92 L687.49 63.16 L689.84 61.45 L686.94 61.45Z" fill="#ff0000" stroke="#000" stroke-width="0.45"/><path d="M695.61 69.71 L694.71 72.48 L691.81 72.48 L694.16 74.19 L693.26 76.95 L695.61 75.24 L697.96 76.95 L697.07 74.19 L699.42 72.48 L696.51 72.48Z" fill="#ff0000" stroke="#000" stroke-width="0.45"/><path d="M705.18 75.88 L704.29 78.65 L701.38 78.65 L703.73 80.35 L702.83 83.12 L705.18 81.41 L707.54 83.12 L706.64 80.35 L708.99 78.65 L706.08 78.65Z" fill="#ff0000" stroke="#000" stroke-width="0.45"/><path d="M714.76 88.22 L713.86 90.98 L710.95 90.98 L713.3 92.69 L712.41 95.45 L714.76 93.75 L717.11 95.45 L716.21 92.69 L718.56 90.98 L715.65 90.98Z" fill="#ff0000" stroke="#000" stroke-width="0.45"/><path d="M724.33 96.26 L723.43 99.02 L720.52 99.02 L722.88 100.73 L721.98 103.49 L724.33 101.78 L726.68 103.49 L725.78 100.73 L728.13 99.02 L725.23 99.02Z" fill="#ff0000" stroke="#000" stroke-width="0.45"/>
</g>
<path d="M437.17 324.55v-2.5M437.17 6.8v2.5M485.03 324.55v-2.5M485.03 6.8v2.5M532.89 324.55v-2.5M532.89 6.8v2.5M580.75 324.55v-2.5M580.75 6.8v2.5M628.61 324.55v-2.5M628.61 6.8v2.5M676.47 324.55v-2.5M676.47 6.8v2.5M724.33 324.55v-2.5M724.33 6.8v2.5M427.6 305.86h2.5M733.9 305.86h-2.5M427.6 268.48h2.5M733.9 268.48h-2.5M427.6 231.09h2.5M733.9 231.09h-2.5M427.6 193.71h2.5M733.9 193.71h-2.5M427.6 156.33h2.5M733.9 156.33h-2.5M427.6 118.95h2.5M733.9 118.95h-2.5M427.6 81.56h2.5M733.9 81.56h-2.5M427.6 44.18h2.5M733.9 44.18h-2.5M427.6 6.8h2.5M733.9 6.8h-2.5" stroke="#666" stroke-width="0.75" fill="none"/>
<rect x="427.6" y="6.8" width="306.3" height="317.75" fill="none" stroke="#5a5a5a" stroke-width="1.2"/>
<rect x="732.9" y="6.1" width="2.1" height="318.8" fill="#959595"/>
<text x="434.66" y="335.8" font-size="12.3" textLength="7.02" lengthAdjust="spacingAndGlyphs">0</text>
<text x="478.87" y="335.8" font-size="12.3" textLength="14.04" lengthAdjust="spacingAndGlyphs">50</text>
<text x="523.01" y="335.8" font-size="12.3" textLength="21.06" lengthAdjust="spacingAndGlyphs">100</text>
<text x="570.87" y="335.8" font-size="12.3" textLength="21.06" lengthAdjust="spacingAndGlyphs">150</text>
<text x="619.04" y="335.8" font-size="12.3" textLength="21.06" lengthAdjust="spacingAndGlyphs">200</text>
<text x="666.9" y="335.8" font-size="12.3" textLength="21.06" lengthAdjust="spacingAndGlyphs">250</text>
<text x="714.73" y="335.8" font-size="12.3" textLength="21.06" lengthAdjust="spacingAndGlyphs">300</text>
<text x="426.25" y="309.96" font-size="12.8" text-anchor="end" textLength="16.94" lengthAdjust="spacingAndGlyphs">0.0</text>
<text x="426.25" y="272.58" font-size="12.8" text-anchor="end" textLength="16.94" lengthAdjust="spacingAndGlyphs">0.2</text>
<text x="426.25" y="235.19" font-size="12.8" text-anchor="end" textLength="16.94" lengthAdjust="spacingAndGlyphs">0.4</text>
<text x="426.25" y="197.81" font-size="12.8" text-anchor="end" textLength="16.94" lengthAdjust="spacingAndGlyphs">0.6</text>
<text x="426.25" y="160.43" font-size="12.8" text-anchor="end" textLength="16.94" lengthAdjust="spacingAndGlyphs">0.8</text>
<text x="426.25" y="123.05" font-size="12.8" text-anchor="end" textLength="16.94" lengthAdjust="spacingAndGlyphs">1.0</text>
<text x="426.25" y="85.66" font-size="12.8" text-anchor="end" textLength="16.94" lengthAdjust="spacingAndGlyphs">1.2</text>
<text x="426.25" y="48.28" font-size="12.8" text-anchor="end" textLength="16.94" lengthAdjust="spacingAndGlyphs">1.4</text>
<text x="426.25" y="10.9" font-size="12.8" text-anchor="end" textLength="16.94" lengthAdjust="spacingAndGlyphs">1.6</text>
<rect x="432.2" y="11.7" width="80" height="46.4" rx="0.6" fill="#fff" stroke="#5a5a5a" stroke-width="1"/>
<line x1="439.3" y1="19.7" x2="453.5" y2="19.7" stroke="#008000" stroke-width="2.9"/>
<circle cx="439.3" cy="19.7" r="3.3" fill="#008000" stroke="#000" stroke-width="0.4"/>
<circle cx="453.5" cy="19.7" r="3.3" fill="#008000" stroke="#000" stroke-width="0.4"/>
<line x1="439.3" y1="34.4" x2="453.5" y2="34.4" stroke="#000000" stroke-width="2.9"/>
<rect x="436" y="31.1" width="6.6" height="6.6" fill="#000000" stroke="none" stroke-width="0"/>
<rect x="450.2" y="31.1" width="6.6" height="6.6" fill="#000000" stroke="none" stroke-width="0"/>
<line x1="439.3" y1="49.1" x2="453.5" y2="49.1" stroke="#ff0000" stroke-width="2.9"/>
<path d="M439.3 45.1 L438.4 47.86 L435.5 47.86 L437.85 49.57 L436.95 52.34 L439.3 50.63 L441.65 52.34 L440.75 49.57 L443.1 47.86 L440.2 47.86Z" fill="#ff0000" stroke="#000" stroke-width="0.45"/>
<path d="M453.5 45.1 L452.6 47.86 L449.7 47.86 L452.05 49.57 L451.15 52.34 L453.5 50.63 L455.85 52.34 L454.95 49.57 L457.3 47.86 L454.4 47.86Z" fill="#ff0000" stroke="#000" stroke-width="0.45"/>
<text x="466.59" y="22.5" font-size="10.3" textLength="6.91" lengthAdjust="spacingAndGlyphs">&lt;</text>
<text x="473.75" y="22.5" font-size="10.3" font-style="italic" textLength="17.73" lengthAdjust="spacingAndGlyphs">vort</text>
<text x="494.38" y="22.5" font-size="10.3" textLength="6.91" lengthAdjust="spacingAndGlyphs">&gt;</text>
<text x="466.59" y="37.2" font-size="10.3" textLength="6.91" lengthAdjust="spacingAndGlyphs">&lt;</text>
<text x="473.54" y="37.2" font-size="10.3" font-style="italic" textLength="19.34" lengthAdjust="spacingAndGlyphs">ekin</text>
<text x="495.08" y="37.2" font-size="10.3" textLength="6.91" lengthAdjust="spacingAndGlyphs">&gt;</text>
<text x="466.59" y="51.5" font-size="10.3" textLength="6.91" lengthAdjust="spacingAndGlyphs">&lt;</text>
<text x="473.56" y="51.5" font-size="10.3" font-style="italic" textLength="23.96" lengthAdjust="spacingAndGlyphs">emag</text>
<text x="499.88" y="51.5" font-size="10.3" textLength="6.91" lengthAdjust="spacingAndGlyphs">&gt;</text>
<g transform="translate(401.0,0) rotate(-90)"><text x="-238.79" y="0" font-size="16.5" textLength="146.96" lengthAdjust="spacingAndGlyphs">Grid average value</text></g>
<text x="565.1" y="351.3" font-size="16.5" font-style="italic" textLength="5.03" lengthAdjust="spacingAndGlyphs">t</text>
<text x="576.35" y="351.3" font-size="16.5" textLength="4.93" lengthAdjust="spacingAndGlyphs">(</text>
<text x="581.32" y="351.3" font-size="16.5" textLength="8.36" lengthAdjust="spacingAndGlyphs">s</text>
<text x="590.42" y="351.3" font-size="16.5" textLength="4.93" lengthAdjust="spacingAndGlyphs">)</text>
<text x="704.17" y="314" font-size="20.2" textLength="24.77" lengthAdjust="spacingAndGlyphs">(b)</text>
</svg>
</body></html>
